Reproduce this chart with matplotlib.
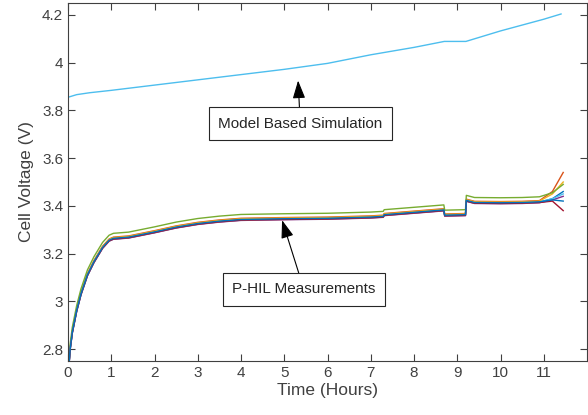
import matplotlib
matplotlib.use('Agg')
from matplotlib import pyplot as plt

plt.rcParams['font.family'] = ['Liberation Sans', 'DejaVu Sans']

# model based simulation (one curve)
t_sim = [0, 0.2, 0.5, 1, 2, 3, 4, 5, 6, 7, 8, 8.7, 9.2, 10, 11, 11.4]
v_sim = [3.855, 3.866, 3.874, 3.884, 3.906, 3.928, 3.95, 3.972, 3.997,
         4.033, 4.064, 4.089, 4.089, 4.133, 4.182, 4.204]

# P-HIL measurements: common shape of the bundle
t_meas = [0, 0.05, 0.1, 0.2, 0.3, 0.45, 0.6, 0.8, 0.95, 1.05, 1.4, 2.0,
          2.5, 3.0, 3.5, 4.0, 5.0, 6.0, 7.0, 7.29, 7.31, 8.0, 8.69, 8.71,
          9.19, 9.21, 9.4, 10.0, 10.5, 10.9]
v_base = [2.68, 2.80, 2.87, 2.96, 3.03, 3.11, 3.165, 3.225, 3.255, 3.263,
          3.268, 3.29, 3.31, 3.325, 3.335, 3.342, 3.345, 3.347, 3.352,
          3.355, 3.362, 3.372, 3.382, 3.36, 3.362, 3.422, 3.413, 3.412,
          3.413, 3.416]
# per cell offsets (green cell sits higher), readings near the end
cell_offset = [0.0, 0.006, 0.004, -0.003, 0.022, -0.001, -0.002, 0.001]
t_tail = [11.2, 11.45]
cell_mid = [3.43, 3.46, 3.45, 3.425, 3.455, 3.43, 3.42, 3.425]
cell_end = [3.46, 3.54, 3.50, 3.44, 3.49, 3.45, 3.38, 3.42]

colors = ['#0072BD', '#D95319', '#EDB120', '#7E2F8E', '#77AC30', '#4DBEEE',
          '#A2142F', '#0072BD']

fig = plt.figure(figsize=(5.88, 4.15), dpi=100)
ax = fig.add_axes([68/588, 54/415, 519/588, 358/415])

for off, mid, end, c in zip(cell_offset, cell_mid, cell_end, colors):
    vals = [v + off for v in v_base] + [mid, end]
    ax.plot(t_meas + t_tail, vals, color=c, lw=1.0)

ax.plot(t_sim, v_sim, color='#4DBEEE', lw=1.0)

box = dict(boxstyle='square,pad=0.6', fc='white', ec='#262626', lw=0.8)
arr = dict(arrowstyle='-|>,head_length=1.0,head_width=0.35', color='black',
           lw=0.8, shrinkA=0, shrinkB=0)
ax.annotate('Model Based Simulation', xy=(5.32, 3.925), xytext=(5.37, 3.745),
            ha='center', va='center', fontsize=11, bbox=box,
            arrowprops=arr, color='#262626')
ax.annotate('P-HIL Measurements', xy=(4.95, 3.34), xytext=(5.455, 3.05),
            ha='center', va='center', fontsize=11, bbox=box,
            arrowprops=arr, color='#262626')

ax.set_xlim(0, 12)
ax.set_ylim(2.75, 4.25)
ax.set_xticks(range(12))
ax.set_yticks([2.8, 3, 3.2, 3.4, 3.6, 3.8, 4, 4.2])
ax.set_yticklabels(['2.8', '3', '3.2', '3.4', '3.6', '3.8', '4', '4.2'])
ax.tick_params(direction='in', top=True, right=True, length=5,
               labelsize=11, colors='#404040')
for s in ax.spines.values():
    s.set_color('#404040')
    s.set_linewidth(0.8)
ax.set_xlabel('Time (Hours)', fontsize=12.5, color='#404040', labelpad=2)
ax.set_ylabel('Cell Voltage (V)', fontsize=12.5, color='#404040', labelpad=6)

plt.savefig('out.png', dpi=100)
